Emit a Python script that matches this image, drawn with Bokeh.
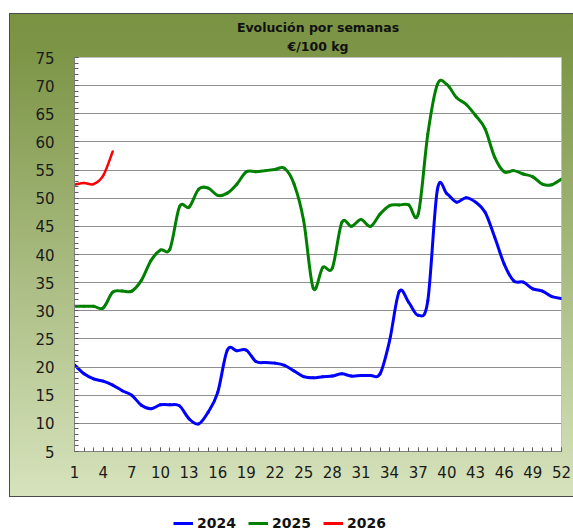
from bokeh.plotting import figure
from bokeh.models import Range1d, FixedTicker, Title, Legend, LegendItem, Spacer
from bokeh.layouts import column, row
from bokeh.embed import file_html
from bokeh.resources import INLINE

weeks = list(range(1, 53))
y2024 = [20.4, 18.8, 17.9, 17.5, 16.8, 15.8, 15.0, 13.2, 12.6, 13.3,
         13.3, 13.1, 10.8, 9.9, 12.0, 15.5, 23.0, 22.9, 23.0, 21.0,
         20.8, 20.7, 20.3, 19.3, 18.3, 18.1, 18.3, 18.4, 18.8, 18.4,
         18.5, 18.5, 18.8, 24.7, 33.4, 31.5, 29.2, 31.8, 51.5, 50.8,
         49.3, 50.1, 49.3, 47.5, 43.1, 38.3, 35.3, 35.1, 33.9, 33.5,
         32.5, 32.2]
y2025 = [30.8, 30.8, 30.8, 30.5, 33.3, 33.5, 33.5, 35.4, 38.9, 40.8,
         41.0, 48.5, 48.4, 51.6, 51.8, 50.5, 50.9, 52.5, 54.7, 54.7,
         54.9, 55.1, 55.3, 52.5, 46.0, 34.0, 37.7, 37.6, 45.7, 45.0,
         46.2, 45.0, 47.2, 48.7, 48.8, 48.8, 47.2, 61.4, 70.2, 70.2,
         67.9, 66.7, 64.7, 62.3, 57.3, 54.7, 54.9, 54.3, 53.8, 52.5,
         52.4, 53.4]
weeks2026 = [1, 2, 3, 4, 5]
y2026 = [52.4, 52.7, 52.5, 54.0, 58.3]

series_names = ["2024", "2025", "2026"]
series_colors = ["#0000ff", "#008000", "#ff0000"]

x_ticks = list(range(1, 53, 3))
y_ticks = list(range(5, 80, 5))

FONT = "DejaVu Sans"


def smooth_segments(xs, ys):
    """Cubic Bezier segments (Catmull-Rom style, as in a smoothed spreadsheet line)."""
    n = len(xs)
    seg = dict(x0=[], y0=[], x1=[], y1=[], cx0=[], cy0=[], cx1=[], cy1=[])
    for i in range(n - 1):
        xp, yp = (xs[i - 1], ys[i - 1]) if i > 0 else (xs[i], ys[i])
        xn2, yn2 = (xs[i + 2], ys[i + 2]) if i + 2 < n else (xs[i + 1], ys[i + 1])
        seg["x0"].append(xs[i]); seg["y0"].append(ys[i])
        seg["x1"].append(xs[i + 1]); seg["y1"].append(ys[i + 1])
        seg["cx0"].append(xs[i] + (xs[i + 1] - xp) / 6.0)
        seg["cy0"].append(ys[i] + (ys[i + 1] - yp) / 6.0)
        seg["cx1"].append(xs[i + 1] - (xn2 - xs[i]) / 6.0)
        seg["cy1"].append(ys[i + 1] - (yn2 - ys[i]) / 6.0)
    return seg


p = figure(width=564, height=484, x_range=Range1d(1, 52), y_range=Range1d(5, 75),
           output_backend="svg", toolbar_location=None,
           min_border_left=65, min_border_right=12, min_border_top=44, min_border_bottom=46)
p.border_fill_color = None
p.background_fill_color = "white"
p.outline_line_color = "#c0c0c0"
p.styles = {
    "background": "linear-gradient(to bottom, #7a9343 0%, #7c9546 8%, #d7e3bd 100%)",
    "box-shadow": "inset 1px 1px 0 #4a4a4a, inset 0 -1px 0 #4a4a4a",
}

t2 = Title(text="€/100 kg", align="center", text_font=FONT, text_font_size="12.5px",
           text_font_style="bold", text_color="#111111", standoff=7, offset=3)
t1 = Title(text="Evolución por semanas", align="center", text_font=FONT, text_font_size="12.5px",
           text_font_style="bold", text_color="#111111", standoff=-3, offset=3)
p.add_layout(t2, "above")
p.add_layout(t1, "above")

p.xaxis.ticker = FixedTicker(ticks=x_ticks, minor_ticks=weeks)
p.yaxis.ticker = FixedTicker(ticks=y_ticks, minor_ticks=list(range(5, 76)))
for ax in (p.xaxis, p.yaxis):
    ax.axis_line_color = "#808080"
    ax.major_tick_line_color = "#606060"
    ax.minor_tick_line_color = "#606060"
    ax.major_tick_in = 4
    ax.major_tick_out = 0
    ax.minor_tick_in = 4
    ax.minor_tick_out = 0
    ax.major_label_text_font = FONT
    ax.major_label_text_font_size = "15px"
    ax.major_label_text_color = "#1a1a1a"
p.xaxis.major_label_standoff = 14
p.yaxis.major_label_standoff = 20

p.xgrid.visible = False
p.ygrid.ticker = FixedTicker(ticks=y_ticks)
p.ygrid.grid_line_color = "#909090"
p.ygrid.grid_line_width = 1

for xs, ys, col, lw in [(weeks, y2024, series_colors[0], 3),
                        (weeks, y2025, series_colors[1], 3),
                        (weeks2026, y2026, series_colors[2], 2.5)]:
    s = smooth_segments(xs, ys)
    p.bezier(x0=s["x0"], y0=s["y0"], x1=s["x1"], y1=s["y1"],
             cx0=s["cx0"], cy0=s["cy0"], cx1=s["cx1"], cy1=s["cy1"],
             line_color=col, line_width=lw, line_cap="round")

# legend strip below the panel
lg = figure(width=573, height=34, x_range=Range1d(0, 1), y_range=Range1d(0, 1),
            output_backend="svg", toolbar_location=None, min_border=0)
lg.outline_line_color = None
lg.axis.visible = False
lg.grid.visible = False
lg.border_fill_color = "white"
items = []
for name, col in zip(series_names, series_colors):
    r = lg.line([5, 6], [5, 6], line_color=col, line_width=3)
    items.append(LegendItem(label=name, renderers=[r]))
legend = Legend(items=items, orientation="horizontal", location=(173, 0),
                label_text_font=FONT, label_text_font_size="14px", label_text_font_style="bold",
                label_text_color="#111111", glyph_width=20, glyph_height=14,
                label_standoff=4, spacing=12, padding=0, margin=0,
                border_line_color=None, background_fill_alpha=0)
lg.add_layout(legend, "center")

layout = column(Spacer(width=573, height=13),
                row(Spacer(width=9, height=484), p),
                lg)

open("out.html", "w").write(file_html(layout, INLINE))
